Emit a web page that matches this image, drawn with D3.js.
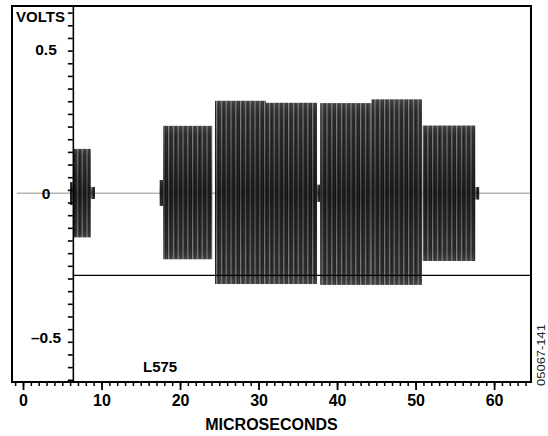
<!DOCTYPE html>
<html>
<head>
<meta charset="utf-8">
<script src="https://cdn.jsdelivr.net/npm/d3@7"></script>
<style>
  body { margin: 0; background: #fff; }
  text { font-family: "Liberation Sans", Arial, Helvetica, sans-serif; }
</style>
</head>
<body>
<div id="chart"></div>
<script>
// burst envelopes (time in microseconds, volts)
const burstStart = [5.99, 6.41, 8.62, 17.40, 17.83, 24.45, 30.95, 37.45, 37.85, 44.40, 50.90, 57.60];
const burstEnd   = [6.41, 8.62, 9.17, 17.83, 24.10, 30.95, 37.45, 37.85, 44.40, 50.80, 57.60, 58.10];
const burstMax   = [0.039, 0.154, 0.022, 0.046, 0.234, 0.321, 0.314, 0.030, 0.313, 0.326, 0.235, 0.022];
const burstMin   = [-0.041, -0.153, -0.020, -0.044, -0.229, -0.315, -0.315, -0.030, -0.318, -0.318, -0.235, -0.022];

const baselineTime = [-0.8, 64.7];
const baselineVolts = [0, 0];
const thresholdVolts = -0.285;

const xMajorTicks = [0, 10, 20, 30, 40, 50, 60];
const yLabelValues = [0.5, 0, -0.5];
const yLabelText = ["0.5", "0", "\u20130.5"];

document.addEventListener("DOMContentLoaded", function () {
    const width = 548, height = 436;

    const x = d3.scaleLinear().domain([-1.4, 64.7]).range([12, 531]);
    const y = d3.scaleLinear().domain([-0.655, 0.65]).range([382, 6]);
    const yAxisAt = 6.35;

    const svg = d3.select("#chart")
        .append("svg")
        .attr("width", width)
        .attr("height", height);

    const defs = svg.append("defs");

    // carrier stripes
    const pat = defs.append("pattern")
        .attr("id", "carrier")
        .attr("patternUnits", "userSpaceOnUse")
        .attr("width", 4.8)
        .attr("height", 10);
    pat.append("rect").attr("width", 4.8).attr("height", 10).attr("fill", "#1f1f1f");
    pat.append("rect").attr("x", 0).attr("width", 1.1).attr("height", 10).attr("fill", "#7c7c7c");
    pat.append("rect").attr("x", 1.1).attr("width", 0.8).attr("height", 10).attr("fill", "#4a4a4a");
    pat.append("rect").attr("x", 3.2).attr("width", 0.7).attr("height", 10).attr("fill", "#383838");

    const shade = defs.append("linearGradient")
        .attr("id", "shade")
        .attr("x1", 0).attr("y1", 0).attr("x2", 0).attr("y2", 1);
    shade.append("stop").attr("offset", "0%").attr("stop-color", "#fff").attr("stop-opacity", 0.12);
    shade.append("stop").attr("offset", "12%").attr("stop-color", "#000").attr("stop-opacity", 0);
    shade.append("stop").attr("offset", "50%").attr("stop-color", "#000").attr("stop-opacity", 0.4);
    shade.append("stop").attr("offset", "88%").attr("stop-color", "#000").attr("stop-opacity", 0);
    shade.append("stop").attr("offset", "100%").attr("stop-color", "#fff").attr("stop-opacity", 0.12);

    const bursts = burstStart.map((s, i) => ({ s: s, e: burstEnd[i], hi: burstMax[i], lo: burstMin[i] }));

    // baseline
    const baseline = baselineTime.map((t, i) => [t, baselineVolts[i]]);
    svg.append("path")
        .datum(baseline)
        .attr("d", d3.line().x(d => x(d[0])).y(d => y(d[1])))
        .attr("stroke", "#b5b5b5")
        .attr("stroke-width", 1.6)
        .attr("fill", "none");

    svg.selectAll(".burst")
        .data(bursts)
        .enter()
        .append("rect")
        .attr("class", "burst")
        .attr("x", d => x(d.s))
        .attr("y", d => y(d.hi))
        .attr("width", d => x(d.e) - x(d.s))
        .attr("height", d => y(d.lo) - y(d.hi))
        .attr("fill", "url(#carrier)");

    svg.selectAll(".shade")
        .data(bursts)
        .enter()
        .append("rect")
        .attr("class", "shade")
        .attr("x", d => x(d.s))
        .attr("y", d => y(d.hi))
        .attr("width", d => x(d.e) - x(d.s))
        .attr("height", d => y(d.lo) - y(d.hi))
        .attr("fill", "url(#shade)");

    // threshold line
    svg.append("line")
        .attr("x1", x(yAxisAt))
        .attr("x2", x(64.7))
        .attr("y1", y(thresholdVolts))
        .attr("y2", y(thresholdVolts))
        .attr("stroke", "#000")
        .attr("stroke-width", 1.3);

    // y axis (scope divisions)
    const yTicks = d3.range(30).map(i => 0.627 - i * 0.04394);
    svg.append("g")
        .attr("transform", `translate(${x(yAxisAt)},0)`)
        .call(d3.axisLeft(y).tickValues(yTicks).tickSize(5).tickSizeOuter(0).tickFormat(""))
        .call(g => g.selectAll("line, path").attr("stroke", "#000").attr("stroke-width", 1.6));

    // x axis minor + major
    svg.append("g")
        .attr("transform", `translate(0,382)`)
        .call(d3.axisBottom(x).tickValues(d3.range(-1, 65)).tickSize(4).tickFormat(""))
        .call(g => g.select(".domain").remove())
        .call(g => g.selectAll("line").attr("stroke", "#000").attr("stroke-width", 1.5));

    svg.append("g")
        .attr("transform", `translate(0,382)`)
        .call(d3.axisBottom(x).tickValues(xMajorTicks).tickSize(8).tickPadding(5))
        .call(g => g.select(".domain").remove())
        .call(g => g.selectAll("line").attr("stroke", "#000").attr("stroke-width", 1.8))
        .call(g => g.selectAll("text")
            .attr("fill", "#000")
            .style("font-size", "16px")
            .style("font-weight", "bold")
            .style("font-family", "'Liberation Sans', Arial, sans-serif"));

    // frame
    svg.append("rect")
        .attr("x", 12).attr("y", 6)
        .attr("width", 519).attr("height", 376)
        .attr("fill", "none")
        .attr("stroke", "#000")
        .attr("stroke-width", 2);

    // y labels
    svg.selectAll(".ylab")
        .data(yLabelValues)
        .enter()
        .append("text")
        .attr("class", "ylab")
        .attr("x", 46)
        .attr("y", d => y(d) + 5.7)
        .attr("text-anchor", "middle")
        .attr("font-size", "15.5px")
        .attr("font-weight", "bold")
        .text((d, i) => yLabelText[i]);

    svg.append("text")
        .attr("x", 16)
        .attr("y", 21.7)
        .attr("font-size", "15px")
        .attr("font-weight", "bold")
        .text("VOLTS");

    svg.append("text")
        .attr("x", 271.5)
        .attr("y", 430)
        .attr("text-anchor", "middle")
        .attr("font-size", "16px")
        .attr("font-weight", "bold")
        .text("MICROSECONDS");

    svg.append("text")
        .attr("x", 143)
        .attr("y", 371.7)
        .attr("font-size", "15px")
        .attr("font-weight", "bold")
        .text("L575");

    svg.append("text")
        .attr("transform", "translate(545,386) rotate(-90)")
        .attr("font-size", "10px")
        .attr("fill", "#222")
        .attr("textLength", 62)
        .attr("lengthAdjust", "spacingAndGlyphs")
        .text("05067-141");
});
</script>
</body>
</html>
